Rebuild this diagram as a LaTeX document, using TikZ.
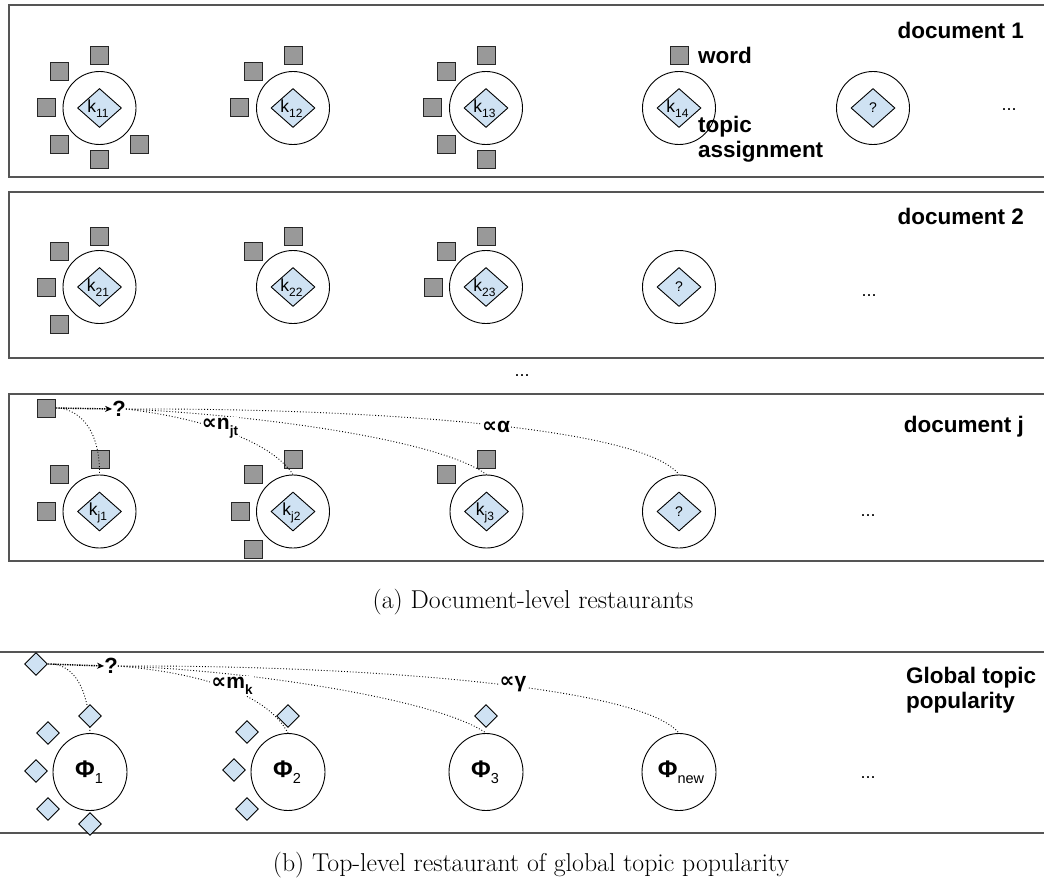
\documentclass[tikz,border=0pt]{standalone}
\usepackage{fontspec}
\usetikzlibrary{shapes.geometric,arrows.meta}
\newfontfamily\arialf{Liberation Sans}
\newfontfamily\dejavuf{DejaVu Sans}
\definecolor{topicblue}{HTML}{CFE2F3}
\definecolor{wordgray}{HTML}{999999}
\definecolor{boxline}{HTML}{555555}
\newcommand\klab[1]{\arialf\fontsize{17.5}{17.5}\selectfont k\raisebox{-5pt}{\fontsize{12}{12}\selectfont #1}}
\newcommand\philab[1]{{\arialf\bfseries\fontsize{24}{24}\selectfont Φ}\raisebox{-6pt}{\arialf\fontsize{14.5}{14.5}\selectfont #1}}
\newcommand\propsym{{\dejavuf\bfseries\fontsize{21}{21}\selectfont ∝}}
\newcommand\bsub[1]{\raisebox{-6pt}{\arialf\bfseries\fontsize{13.5}{13.5}\selectfont #1}}
\begin{document}
\begin{tikzpicture}[x=1pt,y=-1pt,
  docbox/.style={draw=boxline,line width=1.3pt},
  panelline/.style={draw=boxline,line width=2pt},
  tbl/.style={circle,draw=black,line width=0.9pt,minimum size=73pt,inner sep=0pt},
  gtbl/.style={ellipse,draw=black,line width=0.9pt,minimum width=74pt,minimum height=77pt,inner sep=0pt},
  wordsq/.style={rectangle,draw=black!85,fill=wordgray,line width=0.9pt,minimum size=18pt,inner sep=0pt},
  topic/.style={diamond,draw=black,fill=topicblue,line width=0.9pt,minimum width=44pt,minimum height=39pt,inner sep=0pt},
  dish/.style={diamond,draw=black,fill=topicblue,line width=0.9pt,minimum width=23pt,minimum height=23pt,inner sep=0pt},
  ktext/.style={inner sep=0pt},
  qtext/.style={inner sep=0pt,font=\arialf\fontsize{14}{14}\selectfont},
  lab/.style={font=\arialf\bfseries\fontsize{22.5}{25}\selectfont,inner sep=0pt},
  qbold/.style={font=\arialf\bfseries\fontsize{22}{22}\selectfont,inner sep=0pt},
  propl/.style={font=\arialf\bfseries\fontsize{21}{21}\selectfont,inner sep=1pt,fill=white},
  ellip/.style={font=\arialf\fontsize{18}{18}\selectfont,inner sep=0pt},
  choice/.style={dotted,line width=0.9pt},
  seat/.style={densely dotted,line width=1.4pt,-{Stealth[length=7pt,width=6pt]}},
  captxt/.style={font=\fontsize{25.8}{30}\selectfont,inner sep=0pt}]
\useasboundingbox (0,0) rectangle (1044,888);
\begin{scope}
\clip (0,0) rectangle (1044,888);
\draw[docbox] (9,5) rectangle (1080,177);
\draw[docbox] (9,192) rectangle (1080,358);
\draw[docbox] (9,394) rectangle (1080,561);
\draw[panelline] (-5,652) -- (1050,652);
\draw[panelline] (-5,833) -- (1050,833);
\end{scope}

% ---------- document 1 ----------
\node[tbl] (c11) at (99.5,108) {};
\node[tbl] (c12) at (293,108) {};
\node[tbl] (c13) at (486,108) {};
\node[tbl] (c14) at (679,108) {};
\node[tbl] (c15) at (873,108) {};
\node[topic] (t11) at (c11) {}; \node[ktext] (k11) at ([xshift=-1.5pt,yshift=-1pt]t11.center) {\klab{11}};
\node[topic] (t12) at (c12) {}; \node[ktext] (k12) at ([xshift=-1.5pt,yshift=-1pt]t12.center) {\klab{12}};
\node[topic] (t13) at (c13) {}; \node[ktext] (k13) at ([xshift=-1.5pt,yshift=-1pt]t13.center) {\klab{13}};
\node[topic] (t14) at (c14) {}; \node[ktext] (k14) at ([xshift=-1.5pt,yshift=-1pt]t14.center) {\klab{14}};
\node[topic] (t15) at (c15) {}; \node[qtext] (q15) at (t15) {?};
\node[wordsq] (w111) at (99,55) {};
\node[wordsq] (w112) at (59,71) {};
\node[wordsq] (w113) at (46,107) {};
\node[wordsq] (w114) at (59,144) {};
\node[wordsq] (w115) at (99,159) {};
\node[wordsq] (w116) at (139,144) {};
\node[wordsq] (w121) at (293,55) {};
\node[wordsq] (w122) at (253,71) {};
\node[wordsq] (w123) at (239,107) {};
\node[wordsq] (w131) at (486,55) {};
\node[wordsq] (w132) at (446,71) {};
\node[wordsq] (w133) at (432,107) {};
\node[wordsq] (w134) at (446,144) {};
\node[wordsq] (w135) at (486,159) {};
\node[wordsq] (wlegend) at (679,55) {};
\node[lab,anchor=west] (wordlab) at (698,55) {word};
\node[lab,anchor=north west,align=left] (topiclab) at (698,116) {topic\\assignment};
\node[lab,anchor=base east] (doc1) at (1024,38.5) {document 1};
\node[ellip] (e1) at (1009,110) {...};

% ---------- document 2 ----------
\node[tbl] (c21) at (99.5,287) {};
\node[tbl] (c22) at (293,287) {};
\node[tbl] (c23) at (486,287) {};
\node[tbl] (c24) at (679,287) {};
\node[topic] (t21) at (c21) {}; \node[ktext] (k21) at ([xshift=-1.5pt,yshift=-1pt]t21.center) {\klab{21}};
\node[topic] (t22) at (c22) {}; \node[ktext] (k22) at ([xshift=-1.5pt,yshift=-1pt]t22.center) {\klab{22}};
\node[topic] (t23) at (c23) {}; \node[ktext] (k23) at ([xshift=-1.5pt,yshift=-1pt]t23.center) {\klab{23}};
\node[topic] (t24) at (c24) {}; \node[qtext] (q24) at (t24) {?};
\node[wordsq] (w211) at (99,236) {};
\node[wordsq] (w212) at (59,251) {};
\node[wordsq] (w213) at (46,287) {};
\node[wordsq] (w214) at (59,324) {};
\node[wordsq] (w221) at (293,236) {};
\node[wordsq] (w222) at (253,251) {};
\node[wordsq] (w231) at (486,236) {};
\node[wordsq] (w232) at (446,251) {};
\node[wordsq] (w233) at (433,287) {};
\node[lab,anchor=base east] (doc2) at (1024,224.5) {document 2};
\node[ellip] (e2) at (869,296) {...};

\node[ellip] (emid) at (522,376) {...};

% ---------- document j ----------
\node[tbl] (cj1) at (99.5,511.5) {};
\node[tbl] (cj2) at (293,511.5) {};
\node[tbl] (cj3) at (486.5,511.5) {};
\node[tbl] (cj4) at (679,511.5) {};
\node[topic] (tj1) at (cj1) {}; \node[ktext] (kj1) at ([xshift=-1.5pt,yshift=-1pt]tj1.center) {\klab{j1}};
\node[topic] (tj2) at (cj2) {}; \node[ktext] (kj2) at ([xshift=-1.5pt,yshift=-1pt]tj2.center) {\klab{j2}};
\node[topic] (tj3) at (cj3) {}; \node[ktext] (kj3) at ([xshift=-1.5pt,yshift=-1pt]tj3.center) {\klab{j3}};
\node[topic] (tj4) at (cj4) {}; \node[qtext] (qj4) at (tj4) {?};
\node[wordsq] (wj11) at (100,459) {};
\node[wordsq] (wj12) at (59,474) {};
\node[wordsq] (wj13) at (46.5,511.5) {};
\node[wordsq] (wj21) at (293,459) {};
\node[wordsq] (wj22) at (253,474) {};
\node[wordsq] (wj23) at (240,511.5) {};
\node[wordsq] (wj24) at (253,549) {};
\node[wordsq] (wj31) at (486.5,459) {};
\node[wordsq] (wj32) at (446.6,474) {};
\node[wordsq] (wjnew) at (46.5,408) {};
\node[qbold] (qj) at (119,409) {?};
\draw[seat] (wjnew.east) -- (qj.west);
\draw[choice] ([xshift=5pt]wjnew.east) .. controls (88,414) and (100,440) .. (cj1.north);
\draw[choice] (qj.east) .. controls (200,418) and (270,440) .. (cj2.north);
\draw[choice] (qj.east) .. controls (260,415) and (440,440) .. (cj3.north);
\draw[choice] (qj.east) .. controls (350,408) and (640,425) .. (cj4.north);
\node[propl] (pn) at (220,428) {\propsym n\bsub{jt}};
\node[propl] (pa) at (496,427) {\propsym α};
\node[lab,anchor=base east] (docj) at (1024,432) {document j};
\node[ellip] (ej) at (868,516) {...};

\node[captxt] (capa) at (533,602) {(a) Document-level restaurants};

% ---------- global topic popularity ----------
\node[gtbl] (p1) at (90,772) {};
\node[gtbl] (p2) at (288,772) {};
\node[gtbl] (p3) at (486,772) {};
\node[gtbl] (p4) at (679,772) {};
\node[ktext] (f1) at ([xshift=-1pt]p1.center) {\philab{1}};
\node[ktext] (f2) at ([xshift=-1pt]p2.center) {\philab{2}};
\node[ktext] (f3) at ([xshift=-1pt]p3.center) {\philab{3}};
\node[ktext] (f4) at ([xshift=2pt]p4.center) {\philab{new}};
\node[dish] (bs) at (36,664) {};
\node[qbold] (qb) at (111,666) {?};
\draw[seat] (bs.east) -- (qb.west);
\draw[choice] ([xshift=6pt]bs.east) .. controls (78,668) and (89,695) .. (p1.north);
\draw[choice] (qb.east) .. controls (190,672) and (265,690) .. (p2.north);
\draw[choice] (qb.east) .. controls (250,670) and (440,700) .. (p3.north);
\draw[choice] (qb.east) .. controls (350,665) and (640,685) .. (p4.north);
\node[dish] (d11) at (90,716) {};
\node[dish] (d12) at (48,733) {};
\node[dish] (d13) at (36,771) {};
\node[dish] (d14) at (48,809) {};
\node[dish] (d15) at (90,824) {};
\node[dish] (d21) at (288,716) {};
\node[dish] (d22) at (247,732) {};
\node[dish] (d23) at (234,770) {};
\node[dish] (d24) at (247,809) {};
\node[dish] (d31) at (486,716) {};
\node[propl] (pm) at (232,686) {\propsym m\bsub{k}};
\node[propl] (pg) at (513,684) {\propsym γ};
\node[lab,anchor=north west,align=left] (glob) at (906,667) {Global topic\\popularity};
\node[ellip] (eb) at (868,778) {...};

\node[captxt] (capb) at (531,865) {(b) Top-level restaurant of global topic popularity};
\end{tikzpicture}
\end{document}
